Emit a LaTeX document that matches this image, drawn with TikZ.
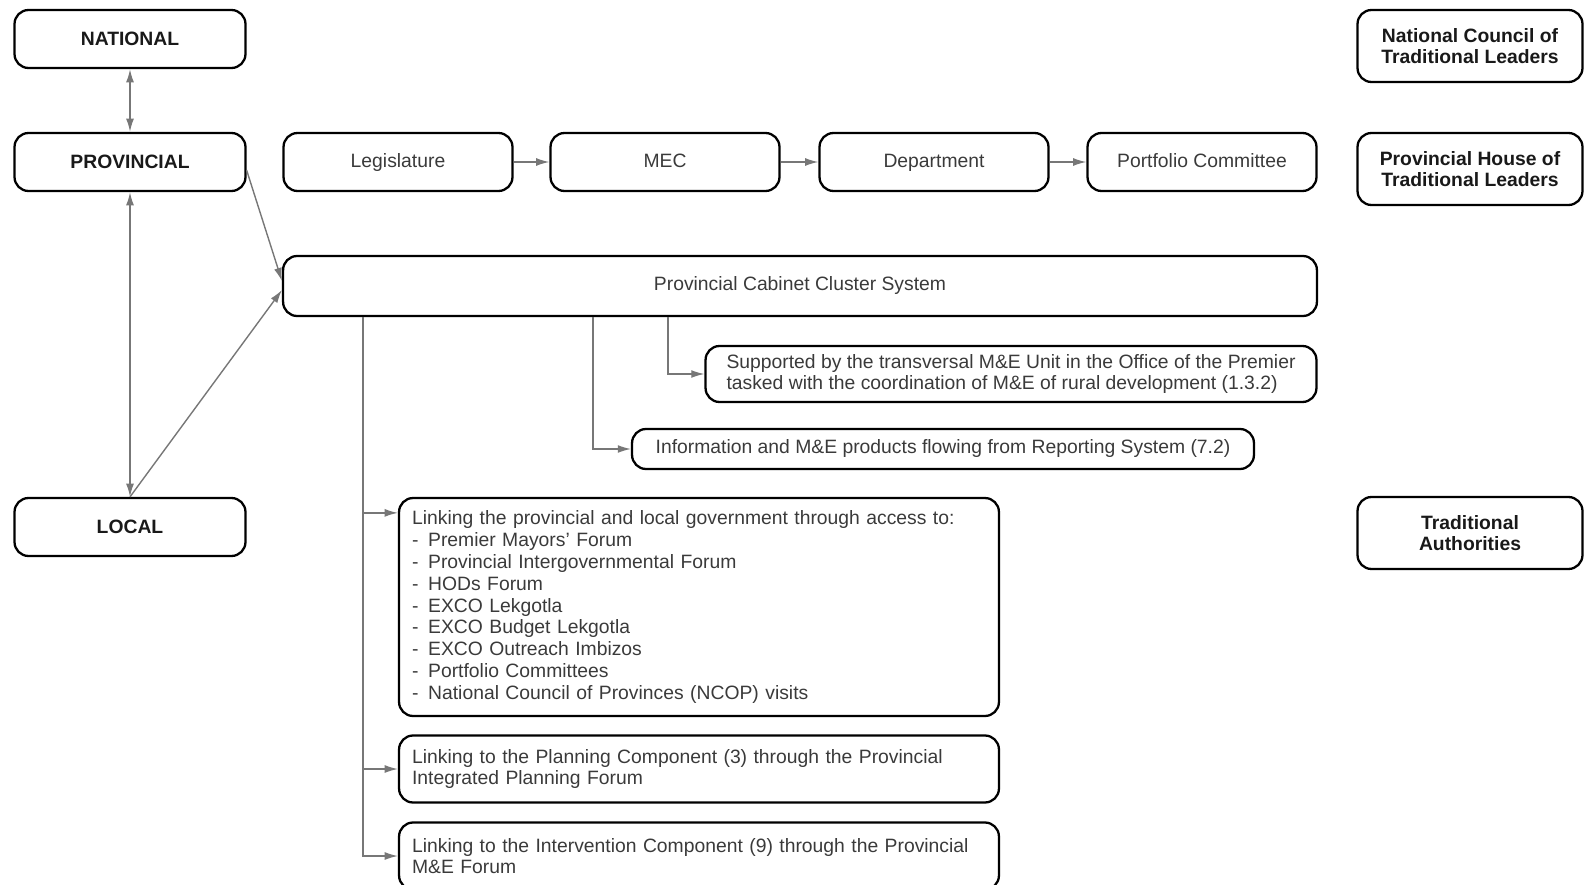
\documentclass[tikz,border=0pt]{standalone}
\usepackage{fontspec}
\setmainfont{Liberation Sans}
\usetikzlibrary{arrows.meta}

\definecolor{linkgray}{HTML}{777777}
\definecolor{txtgray}{HTML}{3A3A3A}

\tikzset{
    box/.style={draw, line width=1.3pt, rounded corners=0.28cm, text=txtgray,
        font=\fontsize{11}{12.4}\selectfont, align=center},
    lvl/.style={box, font=\fontsize{11}{12.4}\selectfont\bfseries, text=black!90,
        minimum width=4.62cm, minimum height=1.16cm},
    unit/.style={box, minimum width=4.58cm, minimum height=1.16cm,
        text height=1.6ex, text depth=0.5ex},
    trad/.style={box, font=\fontsize{11}{12.4}\selectfont\bfseries, text=black!90,
        minimum width=4.5cm, minimum height=1.44cm},
    wide/.style={box, align=left, text width=11.48cm, inner xsep=0.26cm},
    link/.style={draw=linkgray, line width=0.8pt, >={Latex[length=7.5pt,width=4.5pt]}}
}

\begin{document}
\begin{tikzpicture}[x=0.02cm, y=-0.02cm]

    \useasboundingbox (0,0) rectangle (1585,885);
    \clip (0,0) rectangle (1585,885);

    % government levels
    \node[lvl] (nat) at (130,39) {NATIONAL};
    \node[lvl] (prov) at (130,162) {PROVINCIAL};
    \node[lvl] (loc) at (130,527) {LOCAL};

    % provincial chain
    \node[unit] (leg) at (398,162) {Legislature};
    \node[unit] (mec) at (665,162) {MEC};
    \node[unit] (dept) at (934,162) {Department};
    \node[unit] (pc) at (1202,162) {Portfolio Committee};

    % traditional leadership
    \node[trad] (nctl) at (1470,46) {National Council of\\Traditional Leaders};
    \node[trad] (phtl) at (1470,169) {Provincial House of\\Traditional Leaders};
    \node[trad] (ta) at (1470,533) {Traditional\\Authorities};

    \node[box, minimum width=20.68cm, minimum height=1.2cm] (cab) at (800,286) {Provincial Cabinet Cluster System};

    \node[box, align=left, minimum width=12.22cm, minimum height=1.12cm] (unit) at (1011,374)
        {Supported by the transversal M\&E Unit in the Office of the Premier\\tasked with the coordination of M\&E of rural development (1.3.2)};
    \node[box, minimum width=12.44cm, minimum height=0.8cm] (info) at (943,449)
        {Information and M\&E products flowing from Reporting System (7.2)};

    \node[wide, minimum height=4.36cm] (list) at (699,607)
        {Linking the provincial and local government through access to:\\
        -\enspace Premier Mayors' Forum\\
        -\enspace Provincial Intergovernmental Forum\\
        -\enspace HODs Forum\\
        -\enspace EXCO Lekgotla\\
        -\enspace EXCO Budget Lekgotla\\
        -\enspace EXCO Outreach Imbizos\\
        -\enspace Portfolio Committees\\
        -\enspace National Council of Provinces (NCOP) visits};
    \node[wide, minimum height=1.34cm] (plan) at (699,769)
        {Linking to the Planning Component (3) through the Provincial\\Integrated Planning Forum};
    \node[wide, minimum height=1.34cm] (intv) at (699,856)
        {Linking to the Intervention Component (9) through the Provincial\\M\&E Forum};

    % arrows between levels
    \draw[link, <->] (nat) -- (prov);
    \draw[link, <->] (prov) -- (loc);
    \draw[link, ->] (prov.-4) -- ([yshift=0.1cm]cab.west);
    \draw[link, ->] (loc.north) -- ([yshift=-0.08cm]cab.west);

    \draw[link, ->] (leg) -- (mec);
    \draw[link, ->] (mec) -- (dept);
    \draw[link, ->] (dept) -- (pc);

    % branches under the cluster system
    \draw[link, ->] ([xshift=7.72cm]cab.south west) |- (unit.west);
    \draw[link, ->] ([xshift=6.22cm]cab.south west) |- (info.west);
    \draw[link, ->] ([xshift=1.62cm]cab.south west) |- ([yshift=-0.32cm]list.north west);
    \draw[link, ->] ([xshift=1.62cm]cab.south west) |- (plan.west);
    \draw[link, ->] ([xshift=1.62cm]cab.south west) |- (intv.west);

\end{tikzpicture}
\end{document}
